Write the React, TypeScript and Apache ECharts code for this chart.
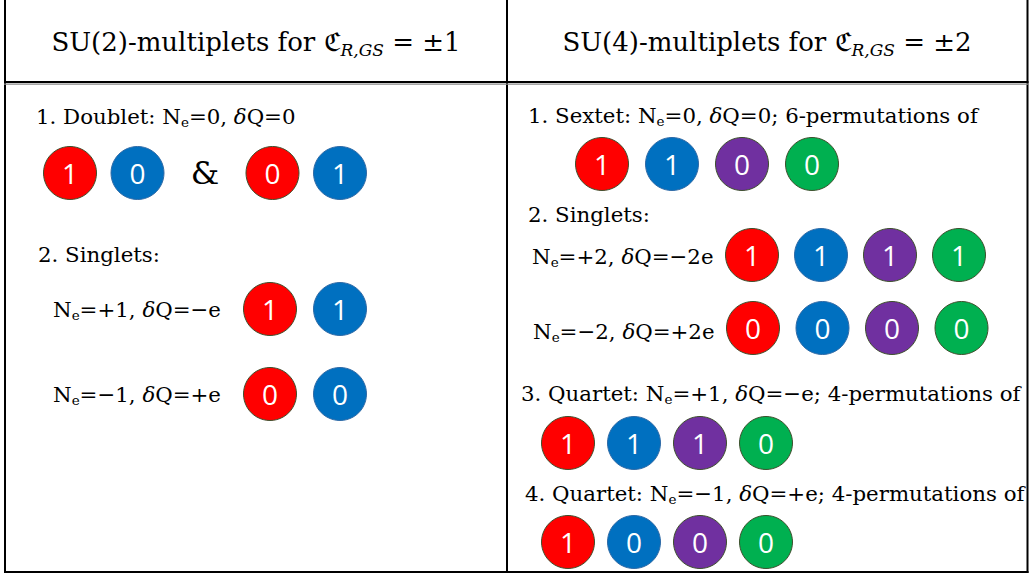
import React, { useEffect, useRef } from "react";
import * as echarts from "echarts";

// ---------- data ----------
const SU2_TITLE = "{t|SU(2)-multiplets for }{f|ℭ}{s|R,GS}{t| = ±1}";
const SU4_TITLE = "{t|SU(4)-multiplets for }{f|ℭ}{s|R,GS}{t| = ±2}";

const SU2_LABELS = [
  "{t|1. Doublet: N}{e|e}{t|=0, }{d|δ}{t|Q=0}",
  "{t|2. Singlets:}",
  "{t|N}{e|e}{t|=+1, }{d|δ}{t|Q=−e}",
  "{t|N}{e|e}{t|=−1, }{d|δ}{t|Q=+e}",
];
const SU4_LABELS = [
  "{t|1. Sextet: N}{e|e}{t|=0, }{d|δ}{t|Q=0; 6-permutations of}",
  "{t|2. Singlets:}",
  "{t|N}{e|e}{t|=+2, }{d|δ}{t|Q=−2e}",
  "{t|N}{e|e}{t|=−2, }{d|δ}{t|Q=+2e}",
  "{t|3. Quartet: N}{e|e}{t|=+1, }{d|δ}{t|Q=−e; 4-permutations of}",
  "{t|4. Quartet: N}{e|e}{t|=−1, }{d|δ}{t|Q=+e; 4-permutations of}",
];

const SU2_DOUBLET = ["1", "0", "&", "0", "1"];
const SU2_DOUBLET_COLORS = ["red", "blue", "none", "red", "blue"];
const SU2_SINGLET_PLUS = ["1", "1"];
const SU2_SINGLET_MINUS = ["0", "0"];
const SU2_COLORS = ["red", "blue"];

const SU4_SEXTET = ["1", "1", "0", "0"];
const SU4_SINGLET_PLUS = ["1", "1", "1", "1"];
const SU4_SINGLET_MINUS = ["0", "0", "0", "0"];
const SU4_QUARTET_PLUS = ["1", "1", "1", "0"];
const SU4_QUARTET_MINUS = ["1", "0", "0", "0"];
const SU4_COLORS = ["red", "blue", "purple", "green"];

// ---------- styles ----------
const PALETTE: Record<string, string> = {
  red: "#FF0000",
  blue: "#0070C0",
  purple: "#7030A0",
  green: "#00B050",
};
const SERIF = "'DejaVu Serif', 'Liberation Serif', serif";
const SANS = "'Open Sans', 'Liberation Sans', sans-serif";
const FS = 21.3;
const HFS = 26;

const bodyRich = {
  t: { fontFamily: SERIF, fontSize: FS, lineHeight: 26, fill: "#000" },
  d: { fontFamily: SERIF, fontSize: FS, fontStyle: "italic", lineHeight: 26, fill: "#000" },
  e: { fontFamily: SERIF, fontSize: 13.5, lineHeight: 4, verticalAlign: "bottom", fill: "#000" },
};
const headRich = {
  t: { fontFamily: SERIF, fontSize: HFS, lineHeight: 32, fill: "#000" },
  f: { fontFamily: SERIF, fontSize: HFS, lineHeight: 32, fill: "#000" },
  s: { fontFamily: SERIF, fontSize: 17, fontStyle: "italic", lineHeight: 10, verticalAlign: "bottom", fill: "#000" },
};

// row layouts: [digits, colors, firstCenterX, spacing, centerY]
const ROWS: [string[], string[], number, number, number][] = [
  [SU2_DOUBLET, SU2_DOUBLET_COLORS, 70, 67.5, 173],
  [SU2_SINGLET_PLUS, SU2_COLORS, 270, 70, 309],
  [SU2_SINGLET_MINUS, SU2_COLORS, 270, 70, 394],
  [SU4_SEXTET, SU4_COLORS, 602, 70, 164],
  [SU4_SINGLET_PLUS, SU4_COLORS, 752, 69, 255],
  [SU4_SINGLET_MINUS, SU4_COLORS, 753, 69.5, 328],
  [SU4_QUARTET_PLUS, SU4_COLORS, 568, 66, 443],
  [SU4_QUARTET_MINUS, SU4_COLORS, 568, 66, 542],
];

const SU2_TEXT_POS: [number, number][] = [
  [36, 116],
  [38, 254],
  [53, 309],
  [53, 394],
];
const SU4_TEXT_POS: [number, number][] = [
  [528, 115],
  [528, 214],
  [532, 256],
  [533, 331],
  [521, 393],
  [525, 493],
];

export default function App() {
  const ref = useRef<HTMLDivElement>(null);
  useEffect(() => {
    if (!ref.current) return;
    const chart = echarts.init(ref.current, undefined, { renderer: "svg" });

    const grids: any[] = [];
    const xAxes: any[] = [];
    const yAxes: any[] = [];
    const series: any[] = [];
    ROWS.forEach(([digits, colors, cx0, sp, cy], gi) => {
      grids.push({ left: cx0 - sp / 2, top: cy - 30, width: digits.length * sp, height: 60 });
      xAxes.push({
        type: "category",
        gridIndex: gi,
        data: digits.map((_, i) => String(i)),
        boundaryGap: true,
        show: false,
      });
      yAxes.push({ type: "category", gridIndex: gi, data: ["r"], show: false });
      series.push({
        type: "scatter",
        xAxisIndex: gi,
        yAxisIndex: gi,
        symbol: "circle",
        symbolSize: 53,
        silent: true,
        itemStyle: { opacity: 1 },
        data: digits.map((d, i) => {
          const c = colors[i];
          if (c === "none") {
            return {
              name: d,
              value: [i, 0],
              itemStyle: { color: "rgba(0,0,0,0)", borderWidth: 0, opacity: 1 },
              label: { color: "#000", fontFamily: SERIF, fontSize: 32 },
            };
          }
          return {
            name: d,
            value: [i, 0],
            itemStyle: {
              color: PALETTE[c],
              borderColor: c === "blue" ? "#2f6aa6" : "#3d4f2c",
              borderWidth: 1,
              opacity: 1,
            },
          };
        }),
        label: {
          show: true,
          position: "inside",
          formatter: "{b}",
          color: "#fff",
          fontFamily: SANS,
          fontSize: 28,
        },
      });
    });

    const lineStyle = { stroke: "#000", lineWidth: 2 };
    const graphic: any[] = [
      { type: "line", shape: { x1: 5, y1: 0, x2: 5, y2: 573 }, style: lineStyle },
      { type: "line", shape: { x1: 1027.5, y1: 0, x2: 1027.5, y2: 573 }, style: lineStyle },
      { type: "line", shape: { x1: 507, y1: 0, x2: 507, y2: 573 }, style: lineStyle },
      { type: "line", shape: { x1: 4, y1: 572, x2: 1028.5, y2: 572 }, style: lineStyle },
      { type: "line", shape: { x1: 4, y1: 82, x2: 1028.5, y2: 82 }, style: lineStyle },
      { type: "line", shape: { x1: 4, y1: 84.2, x2: 1028.5, y2: 84.2 }, style: { stroke: "#8a8a8a", lineWidth: 1.2 } },
      {
        type: "text",
        x: 256,
        y: 42,
        style: { text: SU2_TITLE, rich: headRich, align: "center", verticalAlign: "middle" },
      },
      {
        type: "text",
        x: 767,
        y: 42,
        style: { text: SU4_TITLE, rich: headRich, align: "center", verticalAlign: "middle" },
      },
    ];
    SU2_LABELS.forEach((t, i) => {
      graphic.push({
        type: "text",
        x: SU2_TEXT_POS[i][0],
        y: SU2_TEXT_POS[i][1],
        style: { text: t, rich: bodyRich, align: "left", verticalAlign: "middle" },
      });
    });
    SU4_LABELS.forEach((t, i) => {
      graphic.push({
        type: "text",
        x: SU4_TEXT_POS[i][0],
        y: SU4_TEXT_POS[i][1],
        style: { text: t, rich: bodyRich, align: "left", verticalAlign: "middle" },
      });
    });

    chart.setOption({
      animation: false,
      backgroundColor: "#fff",
      grid: grids,
      xAxis: xAxes,
      yAxis: yAxes,
      series,
      graphic,
    });
    return () => chart.dispose();
  }, []);
  return (
    <div
      ref={ref}
      style={{ position: "fixed", left: 0, top: 0, width: 1029, height: 575, background: "#fff" }}
    />
  );
}
